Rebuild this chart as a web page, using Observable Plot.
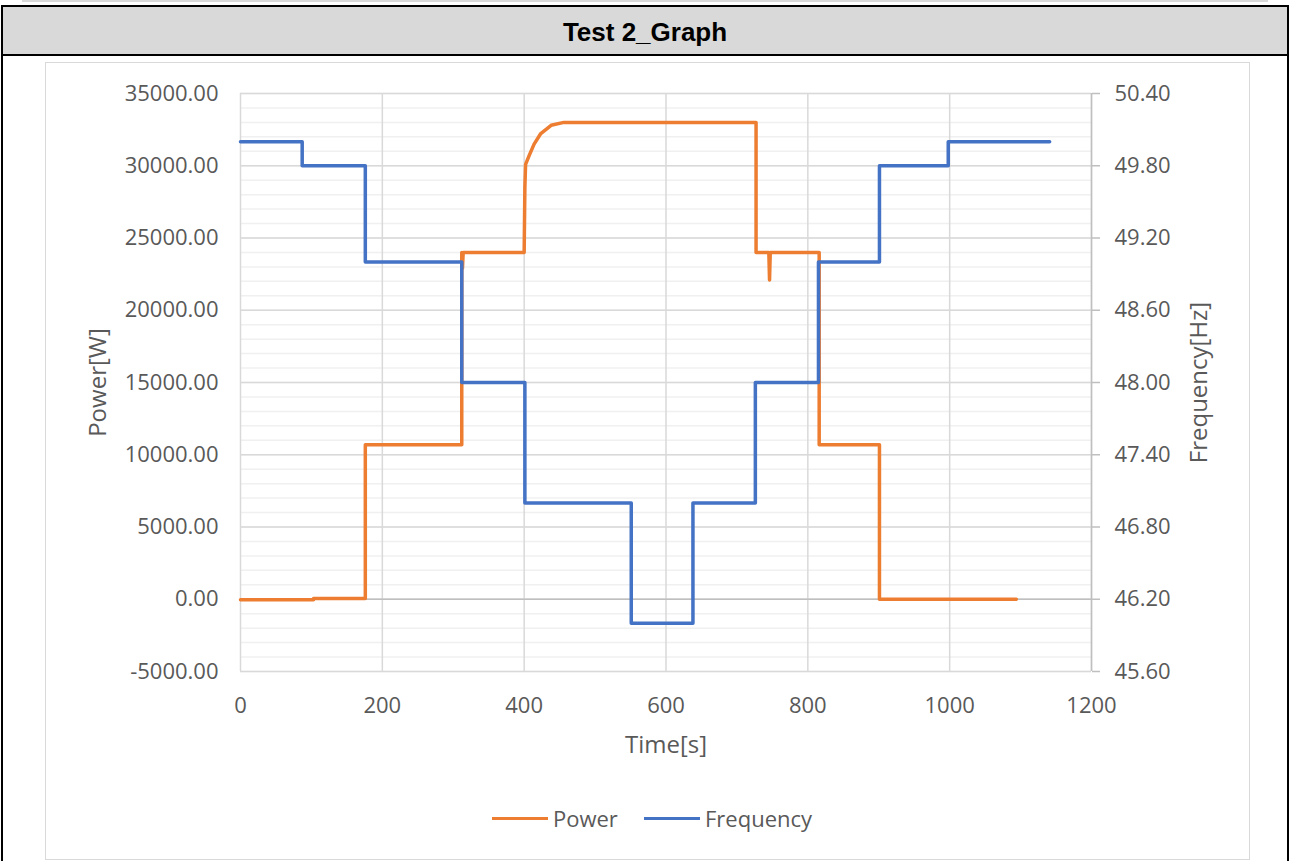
<!DOCTYPE html>
<html><head><meta charset="utf-8">
<script src="https://cdn.jsdelivr.net/npm/d3@7"></script>
<script src="https://cdn.jsdelivr.net/npm/@observablehq/plot@0.6"></script>
<style>
html,body{margin:0;padding:0;background:#fff;}
body{width:1290px;height:861px;overflow:hidden;position:relative;font-family:"Open Sans",sans-serif;}
#topline{position:absolute;left:22px;top:0;width:1246px;height:2px;background:#d9d9d9;}
#frame{position:absolute;left:1px;top:5px;width:1284px;height:900px;border:2px solid #000;border-bottom:none;}
#header{position:absolute;left:0;top:0;width:100%;height:47px;background:#d9d9d9;border-bottom:2px solid #000;
  font:bold 26px Arial,"Liberation Sans",sans-serif;text-align:center;line-height:50px;color:#000;}
#chartbox{position:absolute;left:45px;top:62px;width:1203px;height:796px;border:1px solid #d9d9d9;}
#plot{position:absolute;left:45px;top:62px;}
#legend{position:absolute;top:804px;left:0;width:1290px;height:28px;}
.sw{position:absolute;top:13px;height:3px;}
.lt{position:absolute;top:0;font-size:22px;color:#595959;line-height:28px;}
</style></head>
<body>
<div id="topline"></div>
<div id="frame"><div id="header">Test 2_Graph</div></div>
<div id="chartbox"></div>
<div id="plot"></div>
<div id="legend">
  <div class="sw" style="left:492px;width:56px;background:#ED7D31"></div>
  <div class="lt" style="left:553px">Power</div>
  <div class="sw" style="left:644px;width:56px;background:#4472C4"></div>
  <div class="lt" style="left:705px">Frequency</div>
</div>
<script>
// ---- data ----
const timeTicks = [0, 200, 400, 600, 800, 1000, 1200];
const powerTicks = [-5000, 0, 5000, 10000, 15000, 20000, 25000, 30000, 35000];
const freqTicks = [45.6, 46.2, 46.8, 47.4, 48.0, 48.6, 49.2, 49.8, 50.4];

// Power [W] vs time [s]
const powerTime = [0, 103, 103, 176, 176, 312, 312, 313, 314, 400, 401, 402, 407, 414, 423, 438, 456, 727, 727, 745, 746, 747, 816, 816, 901, 901, 1094];
const powerW    = [-40, -40, 60, 60, 10700, 10700, 24000, 22900, 24000, 24000, 28500, 30100, 30700, 31500, 32200, 32800, 33000, 33000, 24000, 24000, 22100, 24000, 24000, 10700, 10700, 0, 0];

// Frequency [Hz] vs time [s]
const freqTime = [0, 87, 87, 176, 176, 312, 312, 401, 401, 551, 551, 638, 638, 726, 726, 815, 815, 901, 901, 998, 998, 1141];
const freqHz   = [50.0, 50.0, 49.8, 49.8, 49.0, 49.0, 48.0, 48.0, 47.0, 47.0, 46.0, 46.0, 47.0, 47.0, 48.0, 48.0, 49.0, 49.0, 49.8, 49.8, 50.0, 50.0];

// ---- scales mapping for the secondary axis ----
const PMIN = -5000, PMAX = 35000, FMIN = 45.6, FMAX = 50.4;
const f2p = f => PMIN + (f - FMIN) / (FMAX - FMIN) * (PMAX - PMIN);
const p2f = p => FMIN + (p - PMIN) / (PMAX - PMIN) * (FMAX - FMIN);

const powerRows = powerTime.map((t, i) => ({t, v: powerW[i]}));
const freqRows = freqTime.map((t, i) => ({t, v: f2p(freqHz[i])}));
const minorTicks = d3.range(PMIN, PMAX + 1, 1000);

const chart = Plot.plot({
  width: 1204, height: 700,
  marginLeft: 195, marginRight: 158, marginTop: 31, marginBottom: 91,
  style: {fontFamily: '"Open Sans", sans-serif', fontSize: "22px", color: "#595959", background: "transparent", overflow: "visible"},
  x: {domain: [0, 1200]},
  y: {domain: [PMIN, PMAX]},
  marks: [
    Plot.gridY(minorTicks, {stroke: "#f0f0f0", strokeOpacity: 1, strokeWidth: 1.5}),
    Plot.gridY(powerTicks, {stroke: "#d9d9d9", strokeOpacity: 1, strokeWidth: 1.5}),
    Plot.gridX(timeTicks, {stroke: "#d9d9d9", strokeOpacity: 1, strokeWidth: 1.5}),
    Plot.ruleY([0], {stroke: "#bfbfbf", strokeWidth: 1.5}),
    Plot.ruleX([1200], {stroke: "#bfbfbf", strokeWidth: 1.5}),
    Plot.axisY(powerTicks, {anchor: "left", tickSize: 0, tickPadding: 22, tickFormat: d => d.toFixed(2), label: null, fill: "#595959"}),
    Plot.axisY(freqTicks.map(f2p), {anchor: "right", tickSize: 8, tickPadding: 15, stroke: "#bfbfbf", strokeWidth: 1.5, fill: "#595959",
      tickFormat: p => p2f(p).toFixed(2), label: null}),
    Plot.axisX(timeTicks, {anchor: "bottom", tickSize: 0, tickPadding: 26, tickFormat: d => String(d), label: null, fill: "#595959"}),
    Plot.line(powerRows, {x: "t", y: "v", stroke: "#ED7D31", strokeWidth: 3.5, strokeLinejoin: "round"}),
    Plot.line(freqRows, {x: "t", y: "v", stroke: "#4472C4", strokeWidth: 3.5, strokeLinejoin: "round"}),
    Plot.text(["Power[W]"], {frameAnchor: "left", dx: -142, rotate: -90, fontSize: 24, fill: "#595959", textAnchor: "middle", lineAnchor: "middle"}),
    Plot.text(["Frequency[Hz]"], {frameAnchor: "right", dx: 108, rotate: -90, fontSize: 24, fill: "#595959", textAnchor: "middle", lineAnchor: "middle"}),
    Plot.text(["Time[s]"], {frameAnchor: "bottom", dy: 74, fontSize: 24, fill: "#595959", textAnchor: "middle", lineAnchor: "middle"})
  ]
});
document.getElementById("plot").appendChild(chart);
</script>
</body></html>
